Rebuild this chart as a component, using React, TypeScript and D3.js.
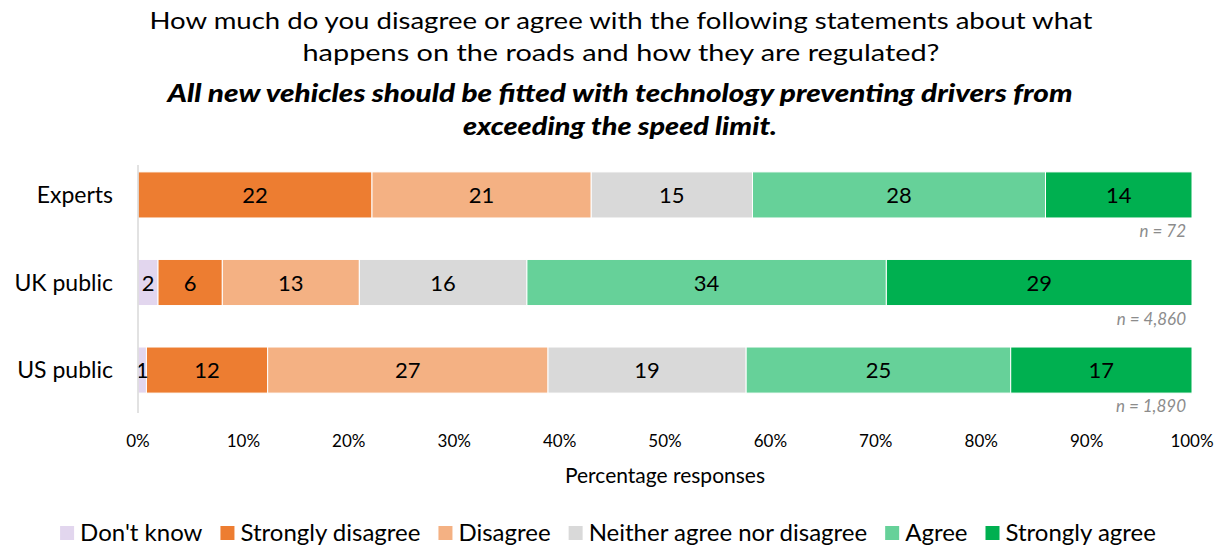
import React, { useEffect, useRef } from "react";
import * as d3 from "d3";

const categories = ["Experts", "UK public", "US public"];
const seriesNames = ["Don't know", "Strongly disagree", "Disagree", "Neither agree nor disagree", "Agree", "Strongly agree"];
const seriesColors = ["#E2D6EE", "#ED7D31", "#F4B183", "#D9D9D9", "#66D199", "#00B050"];
const dontKnow = [0, 1.9, 0.8];
const stronglyDisagree = [22.2, 6.1, 11.5];
const disagree = [20.8, 13.0, 26.6];
const neither = [15.3, 15.9, 18.8];
const agree = [27.8, 34.1, 25.1];
const stronglyAgree = [13.9, 29.0, 17.2];
const sampleLabels = ["n = 72", "n = 4,860", "n = 1,890"];
const tickValues = [0, 10, 20, 30, 40, 50, 60, 70, 80, 90, 100];
const titleLines = [
  "How much do you disagree or agree with the following statements about what",
  "happens on the roads and how they are regulated?",
];
const subtitleLines = [
  "All new vehicles should be fitted with technology  preventing drivers from",
  "exceeding the speed limit.",
];

const FONT = "Lato, 'Open Sans', sans-serif";

export default function App() {
  const ref = useRef<SVGSVGElement>(null);
  useEffect(() => {
    const svg = d3.select(ref.current);
    svg.selectAll("*").remove();
    const left = 138, right = 1192, top = 150, bottom = 415;
    const x = d3.scaleLinear().domain([0, 100]).range([left, right]);
    const y = d3.scaleBand().domain(categories).range([top, bottom]).paddingInner(0.9 / 1.9).paddingOuter(0.25);
    const rows = categories.map((c, i) => ({
      cat: c,
      vals: [dontKnow[i], stronglyDisagree[i], disagree[i], neither[i], agree[i], stronglyAgree[i]],
    }));
    const data = rows.map((r) => {
      const o: any = { cat: r.cat };
      seriesNames.forEach((s, j) => (o[s] = r.vals[j]));
      return o;
    });
    const stacked = d3.stack().keys(seriesNames)(data);

    // title
    const titleY = [29, 61];
    const titleW = [943, 637];
    titleLines.forEach((t, i) => {
      svg.append("text").attr("x", 621).attr("y", titleY[i]).attr("text-anchor", "middle")
        .attr("font-family", FONT).attr("font-size", 24).attr("fill", "#000")
        .attr("textLength", titleW[i]).attr("lengthAdjust", "spacingAndGlyphs").text(t);
    });
    const subY = [102, 135];
    const subW = [905, 314];
    subtitleLines.forEach((t, i) => {
      svg.append("text").attr("x", 620).attr("y", subY[i]).attr("text-anchor", "middle")
        .attr("font-family", FONT).attr("font-size", 24).attr("font-weight", 900).attr("font-style", "italic")
        .attr("fill", "#000").attr("textLength", subW[i]).attr("lengthAdjust", "spacingAndGlyphs").text(t);
    });

    // bars
    const g = svg.append("g");
    stacked.forEach((layer, j) => {
      g.selectAll(null).data(layer).enter().append("rect")
        .attr("x", (d: any) => x(d[0]))
        .attr("y", (d: any) => y(d.data.cat)!)
        .attr("width", (d: any) => Math.max(0, x(d[1]) - x(d[0])))
        .attr("height", y.bandwidth())
        .attr("fill", seriesColors[j])
        .attr("stroke", "#fff").attr("stroke-width", 1);
    });
    stacked.forEach((layer) => {
      g.selectAll(null).data(layer.filter((d: any) => d[1] - d[0] > 0)).enter().append("text")
        .attr("x", (d: any) => Math.max(x((d[0] + d[1]) / 2), left + 4))
        .attr("y", (d: any) => y(d.data.cat)! + y.bandwidth() / 2 + 8)
        .attr("text-anchor", "middle").attr("font-family", FONT).attr("font-size", 22).attr("fill", "#000")
        .text((d: any) => Math.round(d[1] - d[0]));
    });

    // axis line
    svg.append("line").attr("x1", left).attr("x2", left).attr("y1", top + 15).attr("y2", bottom - 2)
      .attr("stroke", "#D9D9D9").attr("stroke-width", 1.5);

    // n labels
    categories.forEach((c, i) => {
      svg.append("text").attr("x", 1186).attr("y", y(c)! + y.bandwidth() + 19).attr("text-anchor", "end")
        .attr("font-family", FONT).attr("font-size", 17).attr("font-style", "italic").attr("fill", "#8C8C8C")
        .text(sampleLabels[i]);
    });

    // category labels
    categories.forEach((c) => {
      svg.append("text").attr("x", 113).attr("y", y(c)! + y.bandwidth() / 2 + 8).attr("text-anchor", "end")
        .attr("font-family", FONT).attr("font-size", 23).attr("fill", "#000").text(c);
    });

    // ticks
    tickValues.forEach((t) => {
      svg.append("text").attr("x", x(t)).attr("y", 447).attr("text-anchor", "middle")
        .attr("font-family", FONT).attr("font-size", 17).attr("fill", "#000").text(t + "%");
    });
    svg.append("text").attr("x", 665).attr("y", 483).attr("text-anchor", "middle")
      .attr("font-family", FONT).attr("font-size", 21).attr("fill", "#000").text("Percentage responses");

    // legend
    const lg = svg.append("g");
    let cx = 0;
    seriesNames.forEach((s, j) => {
      lg.append("rect").attr("x", cx).attr("y", 526).attr("width", 14).attr("height", 14).attr("fill", seriesColors[j]);
      const t = lg.append("text").attr("x", cx + 20).attr("y", 541).attr("font-family", FONT).attr("font-size", 24)
        .attr("fill", "#000").text(s);
      const w = (t.node() as SVGTextElement).getComputedTextLength();
      cx += 20 + w + 18;
    });
    const total = cx - 18;
    lg.attr("transform", `translate(${608 - total / 2},0)`);
  }, []);
  return (
    <svg
      ref={ref}
      width={1223}
      height={551}
      style={{ display: "block", position: "absolute", left: 0, top: 0 }}
    />
  );
}
